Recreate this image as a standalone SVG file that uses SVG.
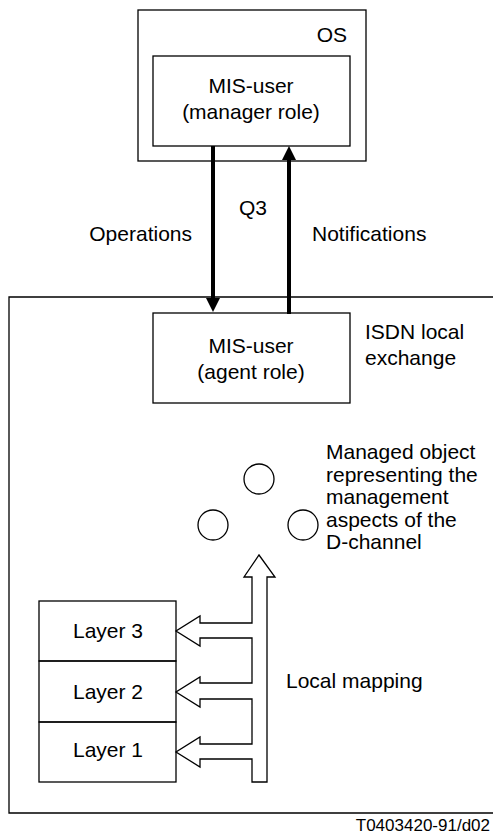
<svg xmlns="http://www.w3.org/2000/svg" width="493" height="837" viewBox="0 0 493 837">
<style>
.box{fill:none;stroke:#000;stroke-width:1.3}
.t{font-family:"Liberation Sans",Arial,sans-serif;font-size:21px;fill:#000}
.c{text-anchor:middle}
.thick{stroke:#000;stroke-width:4;fill:none}
</style>
<rect width="493" height="837" fill="#fff"/>
<g id="os">
<rect class="box" x="138" y="10" width="228" height="151"/>
<text class="t" x="347" y="42" text-anchor="end">OS</text>
</g>
<g id="manager">
<rect class="box" x="153" y="56" width="197" height="90"/>
<text class="t c" x="251" y="93">MIS-user</text>
<text class="t c" x="251" y="119">(manager role)</text>
</g>
<g id="exchange">
<path class="box" d="M493,297 H9 V813 H493"/>
<text class="t" x="365" y="339">ISDN local</text>
<text class="t" x="365" y="365">exchange</text>
</g>
<g id="agent">
<rect class="box" x="153" y="313" width="197" height="90"/>
<text class="t c" x="251" y="353">MIS-user</text>
<text class="t c" x="251" y="379">(agent role)</text>
</g>
<g id="managed-object">
<circle class="box" cx="259" cy="479" r="15"/>
<circle class="box" cx="213" cy="525" r="15"/>
<circle class="box" cx="303" cy="525" r="15"/>
<text class="t" x="326" y="459">Managed object</text>
<text class="t" x="326" y="482">representing the</text>
<text class="t" x="326" y="504">management</text>
<text class="t" x="326" y="527">aspects of the</text>
<text class="t" x="326" y="549">D-channel</text>
</g>
<g id="layers">
<rect class="box" x="39" y="601" width="137" height="60"/>
<rect class="box" x="39" y="661" width="137" height="61"/>
<rect class="box" x="39" y="722" width="137" height="60"/>
<text class="t c" x="108" y="638">Layer 3</text>
<text class="t c" x="108" y="699">Layer 2</text>
<text class="t c" x="108" y="757">Layer 1</text>
</g>
<g id="connectors">
<line class="thick" x1="213" y1="146" x2="213" y2="299"/>
<polygon points="206,298 220,298 213,312" fill="#000"/>
<line class="thick" x1="289" y1="314" x2="289" y2="159"/>
<polygon points="282,160 296,160 289,146" fill="#000"/>
<text class="t c" x="253" y="215">Q3</text>
<text class="t" x="192" y="241" text-anchor="end">Operations</text>
<text class="t" x="312" y="241">Notifications</text>
<polygon class="box" fill="#fff" points="252,782 267,782 267,577 275,577 259,555 244,577 252,577 252,623 200,623 200,616 176,631 200,646 200,638 252,638 252,683 200,683 200,677 176,692 200,707 200,699 252,699 252,744 200,744 200,737 176,752 200,767 200,759 252,759"/>
<text class="t" x="286" y="688">Local mapping</text>
</g>
<text x="490" y="831" text-anchor="end" style="font-family:'Liberation Sans',Arial,sans-serif;font-size:17px">T0403420-91/d02</text>
</svg>
